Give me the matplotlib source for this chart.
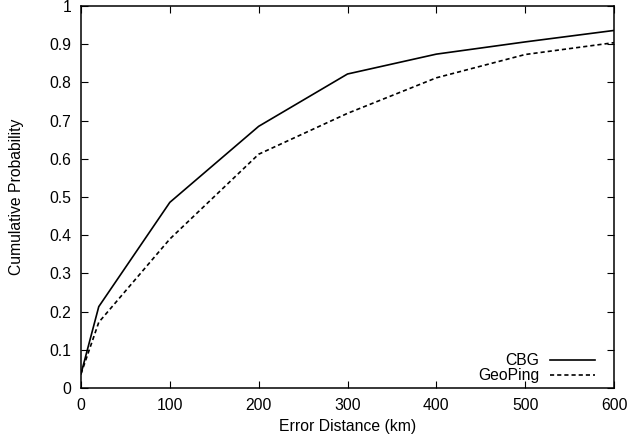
import matplotlib
matplotlib.use("Agg")
import matplotlib.pyplot as plt

x_km = [0, 20, 100, 200, 300, 400, 500, 600]
cbg = [0.037, 0.213, 0.486, 0.685, 0.822, 0.874, 0.906, 0.936]
geoping = [0.037, 0.172, 0.390, 0.612, 0.719, 0.812, 0.873, 0.904]
xticks = [0, 100, 200, 300, 400, 500, 600]
yticks = [0, 0.1, 0.2, 0.3, 0.4, 0.5, 0.6, 0.7, 0.8, 0.9, 1]
ytick_labels = ["0", "0.1", "0.2", "0.3", "0.4", "0.5", "0.6", "0.7", "0.8", "0.9", "1"]

plt.rcParams['font.family'] = ['Liberation Sans', 'DejaVu Sans']
W, H = 629, 444
L, R, T, B = 81, 614, 6, 388
fig = plt.figure(figsize=(W / 100, H / 100), dpi=100)
ax = fig.add_axes([L / W, 1 - B / H, (R - L) / W, (B - T) / H])

ax.plot(x_km, cbg, color='black', lw=1.2, label='CBG')
ax.plot(x_km, geoping, color='black', lw=1.2, dashes=(2.5, 1.8), label='GeoPing')

ax.set_xlim(0, 600)
ax.set_ylim(0, 1)
ax.set_xticks(xticks)
ax.set_yticks(yticks)
ax.set_yticklabels(ytick_labels)
fs = 11.3
ax.tick_params(direction='in', top=True, right=True, length=5, width=0.8,
               labelsize=fs, pad=7)
for s in ax.spines.values():
    s.set_linewidth(1.1)
ax.set_xlabel('Error Distance (km)', fontsize=fs)
ax.set_ylabel('Cumulative Probability', fontsize=fs)
ax.xaxis.set_label_coords(0.5, (B - 419) / (B - T))
ax.yaxis.set_label_coords((24 - L) / (R - L), 0.5)

leg = ax.legend(loc='lower right', frameon=False, markerfirst=False, fontsize=fs,
                handlelength=2.85, borderpad=0, borderaxespad=0,
                labelspacing=0.0, handletextpad=0.7,
                bbox_to_anchor=((595 - L) / (R - L), 5 / (B - T)))

fig.savefig('out.png', dpi=100)
